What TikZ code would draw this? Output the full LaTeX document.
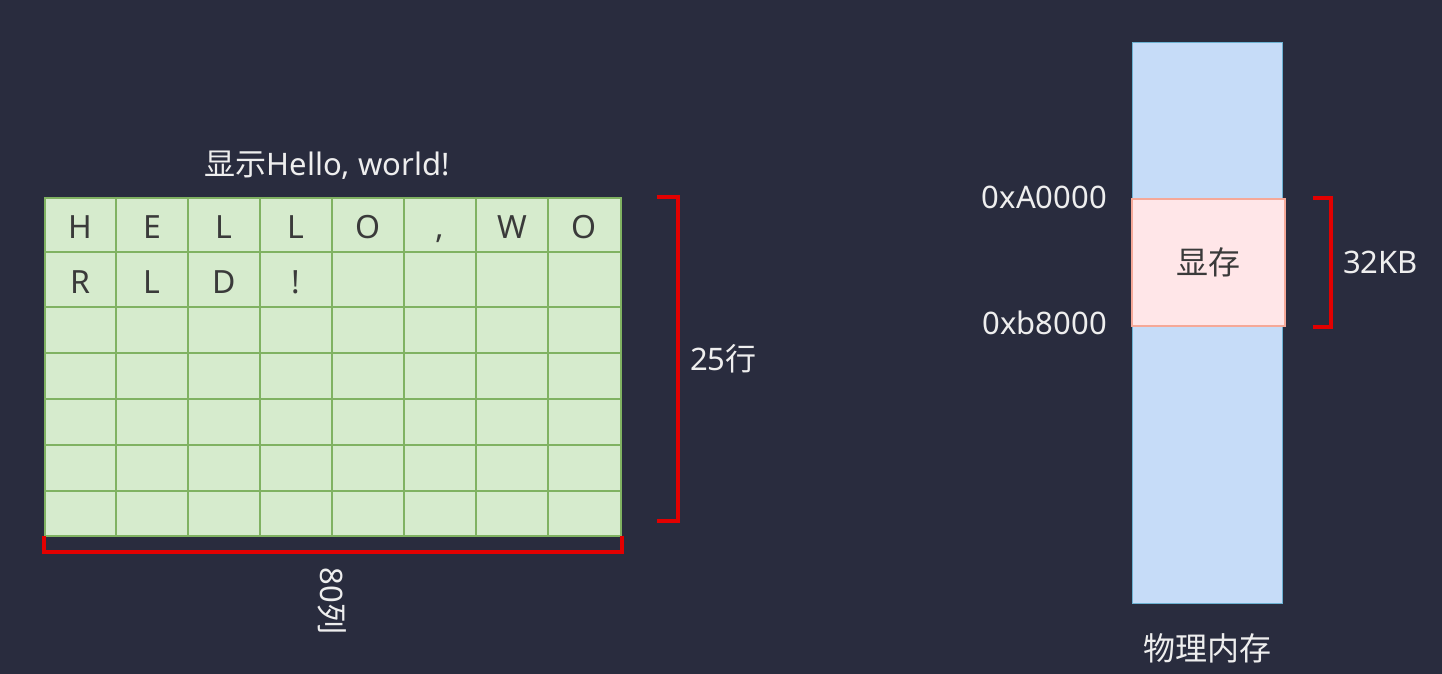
\documentclass[tikz,border=0pt]{standalone}
\usepackage{fontspec}
\setmainfont{Noto Sans}
\newfontfamily\cjk{Noto Sans CJK SC}
\usepackage{tikz}
\usetikzlibrary{positioning}

\definecolor{fundo}{RGB}{41,44,62}
\definecolor{celfill}{RGB}{214,235,205}
\definecolor{celline}{RGB}{128,178,98}
\definecolor{memfill}{RGB}{198,220,248}
\definecolor{memline}{RGB}{108,178,210}
\definecolor{vramfill}{RGB}{255,230,232}
\definecolor{vramline}{RGB}{245,168,152}
\definecolor{chave}{RGB}{226,0,0}
\definecolor{branco}{RGB}{238,238,238}
\definecolor{tinta}{RGB}{58,58,58}

\tikzset{
  rotulo/.style={text=branco, font=\fontsize{31}{37}\selectfont, inner sep=0pt},
  letra/.style={text=tinta, font=\fontsize{32}{37}\selectfont, inner sep=0pt, anchor=base},
  colchete/.style={chave, line width=4pt},
}

\begin{document}
\begin{tikzpicture}[x=1pt, y=-1pt]
        \useasboundingbox[fill=fundo] (0,0) rectangle (1442,674);

        % Tela de texto
        \node[draw=celline, fill=celfill, line width=1.6pt, inner sep=0pt,
              minimum width=576, minimum height=338, anchor=north west] (grid) at (44,197) {};
        \foreach \x in {116,188,260,332,404,476,548} {
            \draw[celline, line width=1.6pt] (\x,197) -- (\x,535);
        }
        \foreach \y in {252,307,353,399,445,491} {
            \draw[celline, line width=1.6pt] (44,\y) -- (620,\y);
        }

        % Letras
        \foreach \c [count=\i] in {H,E,L,L,O,{,},W,O} {
            \node[letra] (a\i) at ({8+72*\i},238) {\c};
        }
        \foreach \c [count=\i] in {R,L,D,!} {
            \node[letra] (b\i) at ({8+72*\i},293) {\c};
        }

        % Titulo
        \node[rotulo, anchor=base] (titulo) at (327,175) {{\cjk 显示}Hello, world!};

        % Colchetes da tela
        \draw[colchete] ([xshift=35]grid.north east) -| ([xshift=56,yshift=16]grid.south east)
              -- ([xshift=35,yshift=16]grid.south east);
        \draw[colchete] ([yshift=1]grid.south west) |- ([yshift=-15]grid.south east)
              -- ([yshift=1]grid.south east);
        \node[rotulo, anchor=base west] (linhas) at (690,370) {25{\cjk 行}};
        \node[rotulo, rotate=-90] (colunas) at (332,601) {80{\cjk 列}};

        % Memoria fisica
        \node[draw=memline, fill=memfill, line width=1.2pt, inner sep=0pt,
              minimum width=150, minimum height=561, anchor=north west] (mem) at (1132,42) {};
        \node[draw=vramline, fill=vramfill, line width=2.4pt, inner sep=0pt, text=tinta,
              font=\fontsize{32}{37}\selectfont\cjk,
              minimum width=153, minimum height=127, anchor=north west] (vram) at (1131,198) {显存};
        \node[rotulo, font=\fontsize{32}{37}\selectfont\cjk] (memnome) at (1207,648) {物理内存};

        % Enderecos e tamanho
        \node[rotulo, anchor=base east] (endA) at (1107,208) {0xA0000};
        \node[rotulo, anchor=base east] (endB) at (1107,334) {0xb8000};
        \draw[colchete] ([xshift=27]vram.north east) -| ([xshift=45]vram.south east)
              -- ([xshift=27]vram.south east);
        \node[rotulo, anchor=base west] (tam) at (1343,273) {32KB};
    \end{tikzpicture}
\end{document}
